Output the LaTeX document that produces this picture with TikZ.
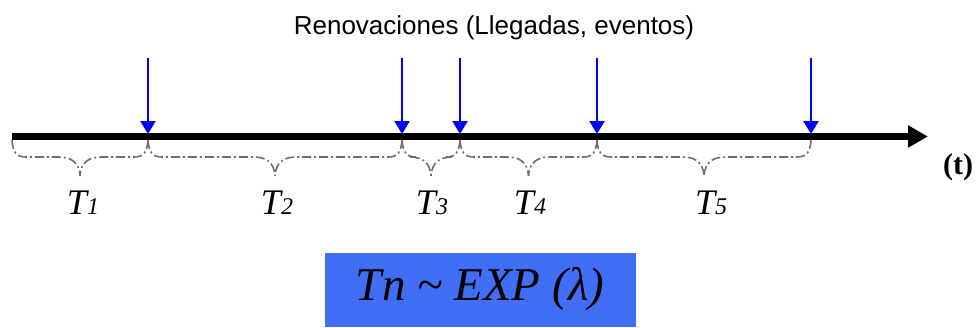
\documentclass[tikz,border=0pt]{standalone}
\usepackage{fontspec}
\setmainfont{Liberation Serif}
\newfontfamily\arialf{Liberation Sans}
\usetikzlibrary{arrows.meta}
\definecolor{boxblue}{RGB}{64,110,247}
\definecolor{evblue}{RGB}{0,0,255}
\definecolor{brgray}{RGB}{110,110,110}
\tikzset{
  axisline/.style={line width=7pt,-{Triangle[length=20pt,width=21pt]}},
  event/.style={evblue,line width=2.6pt,-{Triangle[length=13pt,width=15pt]}},
  brc/.style={brgray,line width=1.6pt,dash pattern=on 9pt off 3pt on 2pt off 3pt},
  tlabel/.style={font=\fontsize{36}{38}\selectfont\itshape,inner sep=0pt},
}
\newcommand\mybrace[2]{%
  \pgfmathsetmacro\mm{(#1+#2)/2}%
  \draw[brc] (#1,140) .. controls (#1+1,152) and (#1+4,157) .. (#1+14,157)
     -- (\mm-22,157) .. controls (\mm-10,157) and (\mm-1,161) .. (\mm,176);
  \draw[brc] (#2,140) .. controls (#2-1,152) and (#2-4,157) .. (#2-14,157)
     -- (\mm+22,157) .. controls (\mm+10,157) and (\mm+1,161) .. (\mm,176);
}
\begin{document}
\begin{tikzpicture}[x=1pt,y=-1pt]
\useasboundingbox (0,0) rectangle (976,327);
% title
\node[inner sep=0pt,anchor=base,font=\arialf\fontsize{26}{28}\selectfont] (title) at (494,34) {Renovaciones (Llegadas, eventos)};
% axis
\coordinate (ax0) at (12,136.5);
\coordinate (ax1) at (928,136.5);
\draw[axisline] (ax0) -- (ax1);
\node[font=\fontsize{30}{32}\selectfont\bfseries,inner sep=0pt] (tt) at (958,167) {(t)};
% events
\foreach \x [count=\i] in {148,402,460,597,811}{
  \coordinate (top\i) at (\x,58);
  \coordinate (ev\i) at (\x,134);
  \draw[event] (top\i) -- (ev\i);
}
% braces
\mybrace{12}{148}
\mybrace{148}{402}
\mybrace{402}{460}
\mybrace{460}{597}
\mybrace{597}{811}
% labels
\foreach \x/\n in {83/1,277/2,432/3,530/4,711/5}{
  \node[tlabel] (T\n) at (\x,203) {T{\fontsize{24}{25}\selectfont\itshape\n}};
}
% formula box
\fill[boxblue] (325,253) rectangle (636,327);
\node[font=\fontsize{47}{49}\selectfont\itshape,inner sep=0pt] (formula) at (480,289) {Tn \textasciitilde\ EXP (λ)};
\end{tikzpicture}
\end{document}
